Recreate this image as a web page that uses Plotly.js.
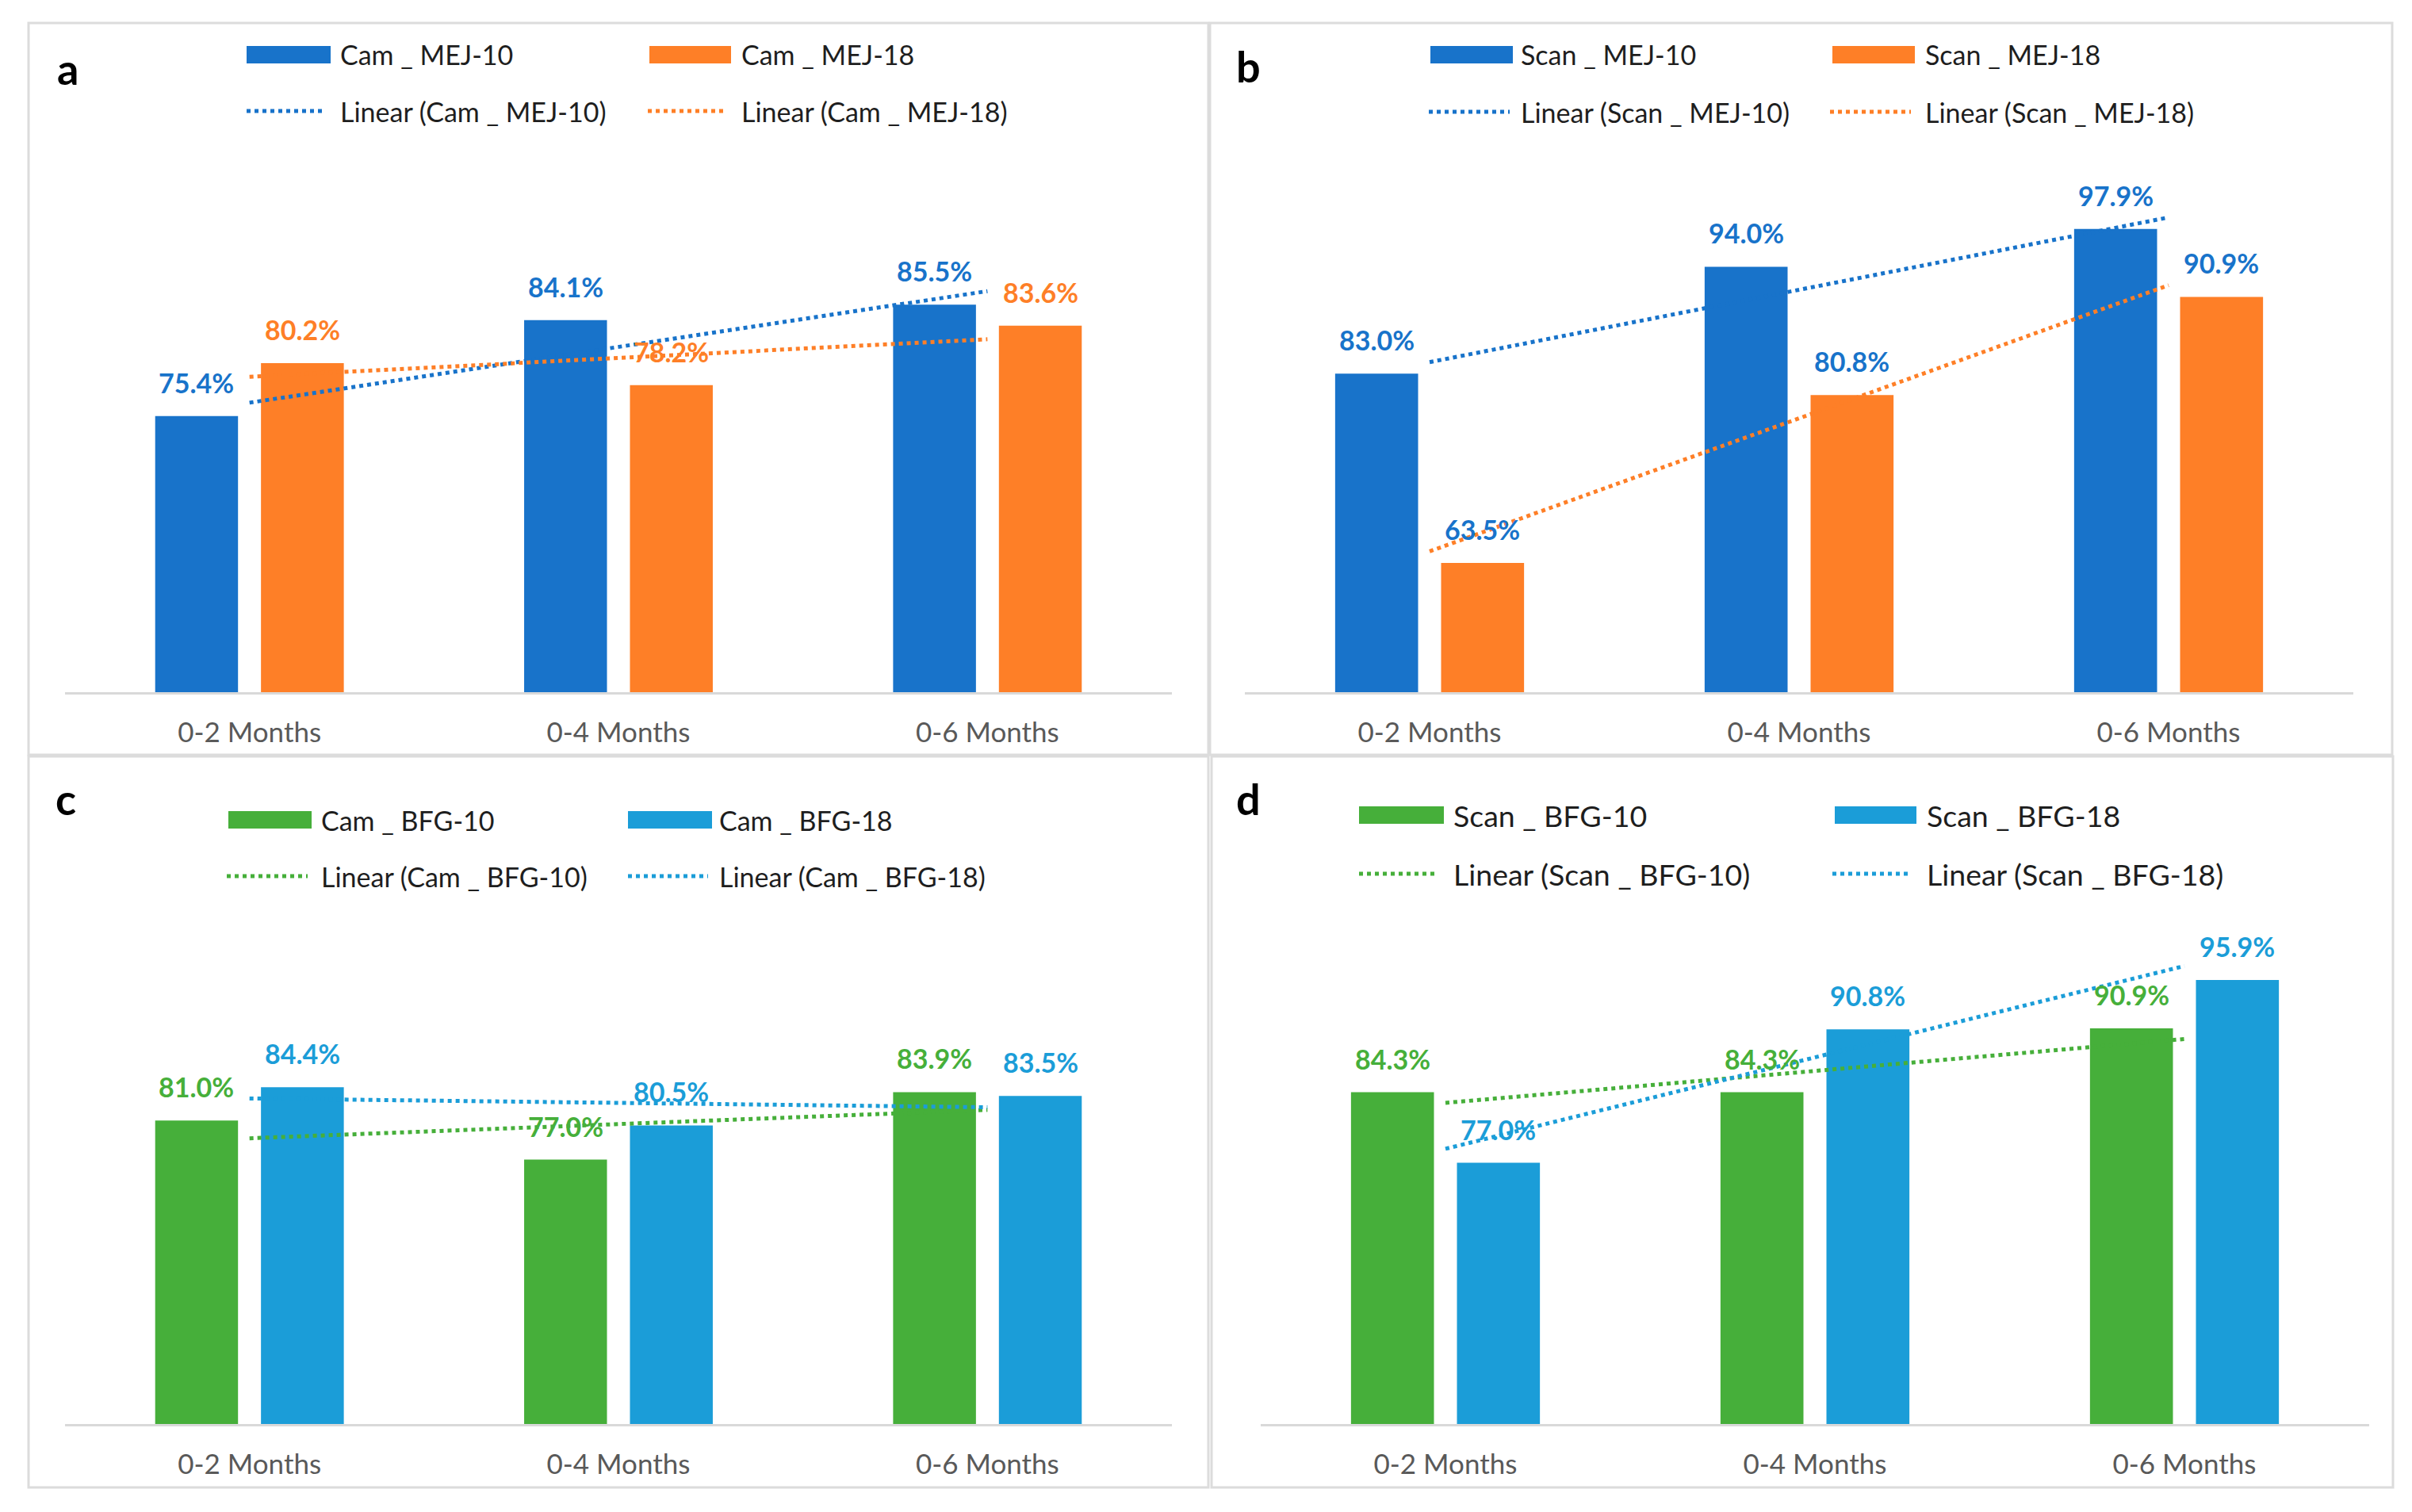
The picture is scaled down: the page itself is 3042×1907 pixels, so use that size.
<!DOCTYPE html>
<html>
<head>
<meta charset="utf-8">
<script src="https://cdn.plot.ly/plotly-3.0.1.min.js"></script>
<style>
  html, body { margin: 0; padding: 0; background: #ffffff; }
  #chart { width: 3042px; height: 1907px; }
</style>
</head>
<body>
<div id="chart"></div>
<script>
// ---------------- data ----------------
const categories = ['0-2 Months', '0-4 Months', '0-6 Months'];

const camMej10  = [75.4, 84.1, 85.5];
const camMej18  = [80.2, 78.2, 83.6];
const scanMej10 = [83.0, 94.0, 97.9];
const scanMej18 = [63.5, 80.8, 90.9];
const camBfg10  = [81.0, 77.0, 83.9];
const camBfg18  = [84.4, 80.5, 83.5];
const scanBfg10 = [84.3, 84.3, 90.9];
const scanBfg18 = [77.0, 90.8, 95.9];

const panelLetters = ['a', 'b', 'c', 'd'];
const seriesNamesA = ['Cam _ MEJ-10', 'Cam _ MEJ-18'];
const seriesNamesB = ['Scan _ MEJ-10', 'Scan _ MEJ-18'];
const seriesNamesC = ['Cam _ BFG-10', 'Cam _ BFG-18'];
const seriesNamesD = ['Scan _ BFG-10', 'Scan _ BFG-18'];

// ---------------- styling ----------------
const W = 3042, H = 1907;
const BLUE = '#1873CA', ORANGE = '#FE7F27', GREEN = '#46AF3A', LBLUE = '#1B9DD8';
const FONT = 'Lato, "Open Sans", sans-serif';
const BARGAP = 0.4265, GROUPGAP = 0.217;
const OFF = (1 - BARGAP) / 4;

function px(x) { return x / W; }
function py(y) { return 1 - y / H; }

function linearFit(vals) {
  const n = vals.length;
  const xs = vals.map((_, i) => i);
  const mx = xs.reduce((a, b) => a + b, 0) / n;
  const my = vals.reduce((a, b) => a + b, 0) / n;
  let sxy = 0, sxx = 0;
  for (let i = 0; i < n; i++) { sxy += (xs[i] - mx) * (vals[i] - my); sxx += (xs[i] - mx) ** 2; }
  const slope = sxy / sxx;
  return xs.map(x => my + slope * (x - mx));
}

const panels = [
  { letter: panelLetters[0], letterPos: [70, 86],
    series: [{ name: seriesNamesA[0], y: camMej10, color: BLUE, label: BLUE },
             { name: seriesNamesA[1], y: camMej18, color: ORANGE, label: ORANGE }],
    xpx: [82, 1478], ypx: [263, 873], yrange: [50.4, 94.2], box: [36, 29, 1524, 952],
    leg: { rect: [[311, 417], [819, 922]], row1: 69, rh: 22, text: [427, 933],
           line: [[311, 411], [817, 915]], row2: 140, size: 34 } },
  { letter: panelLetters[1], letterPos: [1557, 83],
    series: [{ name: seriesNamesB[0], y: scanMej10, color: BLUE, label: BLUE },
             { name: seriesNamesB[1], y: scanMej18, color: ORANGE, label: BLUE }],
    xpx: [1570, 2968], ypx: [263, 873], yrange: [50.2, 100.0], box: [1526, 29, 3017, 952],
    leg: { rect: [[1804, 1908], [2311, 2415]], row1: 69, rh: 22, text: [1916, 2426],
           line: [[1802, 1904], [2308, 2410]], row2: 141, size: 34 } },
  { letter: panelLetters[2], letterPos: [68, 1008],
    series: [{ name: seriesNamesC[0], y: camBfg10, color: GREEN, label: GREEN },
             { name: seriesNamesC[1], y: camBfg18, color: LBLUE, label: LBLUE }],
    xpx: [82, 1478], ypx: [1186, 1796], yrange: [50.0, 99.4], box: [36, 954, 1524, 1876],
    leg: { rect: [[288, 393], [792, 898]], row1: 1034, rh: 22, text: [403, 905],
           line: [[286, 388], [792, 893]], row2: 1105, size: 34 } },
  { letter: panelLetters[3], letterPos: [1557, 1008],
    series: [{ name: seriesNamesD[0], y: scanBfg10, color: GREEN, label: GREEN },
             { name: seriesNamesD[1], y: scanBfg18, color: LBLUE, label: LBLUE }],
    xpx: [1590, 2988], ypx: [1186, 1796], yrange: [50.0, 100.0], box: [1528, 954, 3018, 1876],
    leg: { rect: [[1714, 1821], [2314, 2417]], row1: 1028, rh: 22, text: [1831, 2428],
           line: [[1714, 1814], [2311, 2411]], row2: 1102, size: 37.5 } }
];

const traces = [];
const shapes = [];
const annotations = [];
const layout = {
  width: W, height: H,
  margin: { l: 0, r: 0, t: 0, b: 0, pad: 0 },
  paper_bgcolor: '#ffffff', plot_bgcolor: 'rgba(0,0,0,0)',
  barmode: 'group', bargap: BARGAP, bargroupgap: GROUPGAP,
  showlegend: false,
  font: { family: FONT, color: '#262626' },
  shapes: shapes, annotations: annotations
};

panels.forEach((p, k) => {
  const s = k === 0 ? '' : String(k + 1);
  const xa = 'x' + s, ya = 'y' + s;

  // panel frame
  shapes.push({ type: 'rect', xref: 'paper', yref: 'paper', layer: 'below',
    x0: px(p.box[0]), x1: px(p.box[2]), y0: py(p.box[3]), y1: py(p.box[1]),
    line: { color: '#DCDCDC', width: 3 }, fillcolor: 'rgba(0,0,0,0)' });

  // bars
  p.series.forEach(se => {
    traces.push({ type: 'bar', x: categories, y: se.y, name: se.name,
      xaxis: xa, yaxis: ya, marker: { color: se.color, line: { width: 0 } },
      hoverinfo: 'name+y' });
  });
  // trendlines (least-squares fit of each series)
  p.series.forEach(se => {
    traces.push({ type: 'scatter', mode: 'lines', x: categories, y: linearFit(se.y),
      name: 'Linear (' + se.name + ')', xaxis: xa, yaxis: ya,
      line: { color: se.color, width: 5, dash: 'dot' }, hoverinfo: 'skip' });
  });

  layout['xaxis' + s] = {
    domain: [px(p.xpx[0]), px(p.xpx[1])], anchor: ya, type: 'category',
    range: [-0.5, 2.5], showline: true, linecolor: '#D9D9D9', linewidth: 3,
    ticks: '', ticklabelstandoff: 18, showgrid: false, zeroline: false, fixedrange: true,
    tickfont: { family: FONT, size: 35, color: '#595959' }
  };
  layout['yaxis' + s] = {
    domain: [py(p.ypx[1]), py(p.ypx[0])], anchor: xa, range: p.yrange,
    visible: false, showgrid: false, zeroline: false, fixedrange: true
  };

  // data labels
  p.series.forEach((se, j) => {
    se.y.forEach((v, i) => {
      annotations.push({ xref: xa, yref: ya, x: i + (j === 0 ? -OFF : OFF), y: v,
        text: v.toFixed(1) + '%', showarrow: false, xanchor: 'center', yanchor: 'bottom',
        yshift: 20, font: { family: FONT, size: 34, color: se.label, weight: 'bold' } });
    });
  });

  // panel letter
  annotations.push({ xref: 'paper', yref: 'paper', x: px(p.letterPos[0]), y: py(p.letterPos[1]),
    xanchor: 'left', yanchor: 'middle', showarrow: false, text: p.letter,
    font: { family: FONT, size: 54, color: '#000000', weight: 'bold' } });

  // custom legend
  const L = p.leg;
  p.series.forEach((se, j) => {
    shapes.push({ type: 'rect', xref: 'paper', yref: 'paper',
      x0: px(L.rect[j][0]), x1: px(L.rect[j][1]),
      y0: py(L.row1 + L.rh / 2), y1: py(L.row1 - L.rh / 2),
      line: { width: 0 }, fillcolor: se.color });
    annotations.push({ xref: 'paper', yref: 'paper', x: px(L.text[j]), y: py(L.row1),
      xanchor: 'left', yanchor: 'middle', showarrow: false, text: se.name,
      font: { family: FONT, size: L.size, color: '#1E1E1E' } });
    shapes.push({ type: 'line', xref: 'paper', yref: 'paper',
      x0: px(L.line[j][0]), x1: px(L.line[j][1]), y0: py(L.row2), y1: py(L.row2),
      line: { color: se.color, width: 5, dash: 'dot' } });
    annotations.push({ xref: 'paper', yref: 'paper', x: px(L.text[j]), y: py(L.row2),
      xanchor: 'left', yanchor: 'middle', showarrow: false, text: 'Linear (' + se.name + ')',
      font: { family: FONT, size: L.size, color: '#1E1E1E' } });
  });
});

Plotly.newPlot('chart', traces, layout, { displayModeBar: false, staticPlot: true });
</script>
</body>
</html>
